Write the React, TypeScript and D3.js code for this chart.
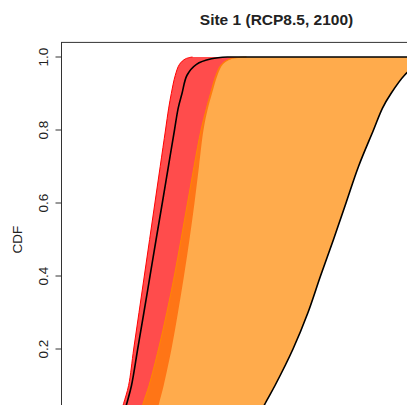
import React from "react";
import * as d3 from "d3";

// CDF probability levels (shared by all curves)
const probs = [0.0, 0.05, 0.1, 0.2, 0.3, 0.4, 0.5, 0.6, 0.7, 0.8, 0.86, 0.9, 0.95, 0.98, 0.995, 1.0];

// Red band (quantile range), left and right edges
const redLower = [28.2, 31.0, 33.55, 36.1, 38.75, 41.4, 44.05, 46.7, 49.35, 52, 53.6, 54.9, 56.9, 59, 62, 65.5];
const redUpper = [46.5, 48.75, 51.1, 55, 58.25, 61.25, 64, 66.5, 68.75, 71, 73.25, 75.25, 78, 80.75, 85.25, 93.25];
// Black central curve in the red band
const redCentral = [30, 32.6, 35.0, 38.1, 41.2, 44.25, 47.3, 50.4, 53.45, 56.5, 58.35, 60.25, 62.75, 67.5, 75, 83];

// Orange band, left and right edges
const orangeLower = [38, 40.75, 43.75, 48.5, 52.65, 56.4, 59.75, 63, 66.25, 69.75, 72.5, 74.5, 77.25, 80, 84.5, 92.5];
const orangeUpper = [97.5, 101.75, 106.75, 115.75, 123.25, 129.5, 136, 142.25, 148.5, 156, 160.5, 164.75, 171.5, 178, 185, 192];

const yTicks = [0.2, 0.4, 0.6, 0.8, 1.0];
const title = "Site 1 (RCP8.5, 2100)";
const yLabel = "CDF";

const W = 407;
const H = 405;
const plot = { left: 61.5, right: 491.5, top: 42.4, bottom: 436.6 };

export default function App() {
  const x = d3.scaleLinear().domain([0, 215]).range([plot.left, plot.right]);
  const y = d3.scaleLinear().domain([-0.04, 1.04]).range([plot.bottom, plot.top]);
  const curve = d3.curveCatmullRom.alpha(0.5);

  const band = (lo: number[], hi: number[]) =>
    d3
      .area<number>()
      .y((p) => y(p))
      .x0((_, i) => x(lo[i]))
      .x1((_, i) => x(hi[i]))
      .curve(curve)(probs) || "";

  const edge = (xs: number[], extend = false) => {
    const pts: [number, number][] = xs.map((v, i) => [x(v), y(probs[i])]);
    const path = d3.line().curve(curve)(pts) || "";
    return extend ? path + `L${x(300)},${y(1)}` : path;
  };

  return (
    <svg
      width={W}
      height={H}
      style={{ position: "fixed", left: 0, top: 0, background: "#fff" }}
      fontFamily="'Liberation Sans', Arial, sans-serif"
    >
      <defs>
        <clipPath id="plotclip">
          <rect x={plot.left} y={plot.top} width={plot.right - plot.left} height={plot.bottom - plot.top} />
        </clipPath>
      </defs>
      <rect x={0} y={0} width={W} height={H} fill="#fff" />
      <g clipPath="url(#plotclip)">
        <path d={band(redLower, redUpper)} fill="rgb(255,0,0)" fillOpacity={0.7} />
        <path d={edge(redLower)} fill="none" stroke="rgb(255,0,0)" strokeWidth={1} />
        <path d={band(orangeLower, orangeUpper)} fill="rgb(255,135,0)" fillOpacity={0.7} />
        <path d={edge(orangeLower)} fill="none" stroke="rgb(255,135,0)" strokeWidth={1} />
        <path d={edge(redCentral, true)} fill="none" stroke="#000" strokeWidth={1.6} />
        <path d={edge(orangeUpper, true)} fill="none" stroke="#000" strokeWidth={1.6} />
      </g>
      <rect
        x={plot.left}
        y={plot.top}
        width={plot.right - plot.left}
        height={plot.bottom - plot.top}
        fill="none"
        stroke="#333"
        strokeWidth={1}
      />
      {yTicks.map((t) => (
        <g key={t}>
          <line x1={plot.left - 6} x2={plot.left} y1={y(t)} y2={y(t)} stroke="#333" strokeWidth={1} />
          <text
            transform={`translate(${plot.left - 14},${y(t)}) rotate(-90)`}
            textAnchor="middle"
            fontSize={13.5}
            fill="#222"
          >
            {t.toFixed(1)}
          </text>
        </g>
      ))}
      <text
        transform={`translate(${22},${(plot.top + plot.bottom) / 2}) rotate(-90)`}
        textAnchor="middle"
        fontSize={13.5}
        fill="#222"
      >
        {yLabel}
      </text>
      <text x={(plot.left + plot.right) / 2} y={25} textAnchor="middle" fontSize={15.5} fontWeight="bold" fill="#222">
        {title}
      </text>
    </svg>
  );
}
